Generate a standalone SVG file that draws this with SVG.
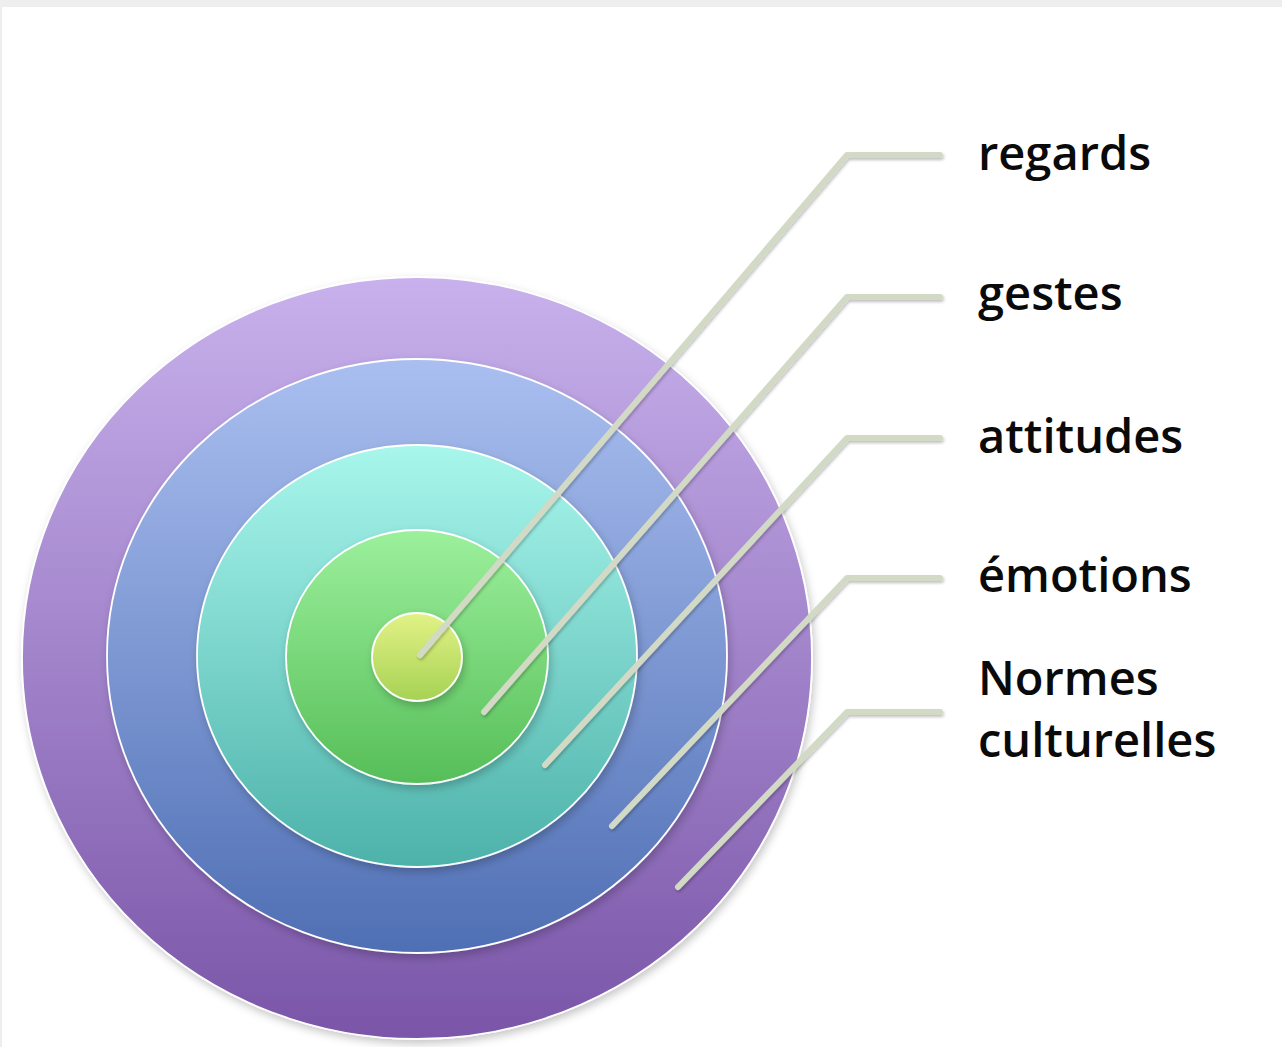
<svg xmlns="http://www.w3.org/2000/svg" width="1282" height="1047" viewBox="0 0 1282 1047">
<style>
.ring{stroke:#ffffff;stroke-width:1.8;filter:url(#sh)}
.conn{fill:none;stroke:#d2dac6;stroke-width:6;stroke-linecap:round;stroke-linejoin:round;filter:url(#lsh)}
.lbl{font-family:"Open Sans","Liberation Sans",sans-serif;font-size:47px;font-weight:600;fill:#0a0a0a}
</style>
<defs>
<filter id="sh" x="-10%" y="-10%" width="120%" height="125%">
<feDropShadow dx="2" dy="4" stdDeviation="4" flood-color="#000" flood-opacity="0.22"/>
</filter>
<filter id="lsh" x="-10%" y="-10%" width="120%" height="120%">
<feDropShadow dx="1" dy="2" stdDeviation="1.5" flood-color="#000" flood-opacity="0.25"/>
</filter>
<linearGradient id="gP" x1="0" y1="0" x2="0" y2="1"><stop offset="0" stop-color="#c8b1ec"/><stop offset="1" stop-color="#7a55a8"/></linearGradient>
<linearGradient id="gB" x1="0" y1="0" x2="0" y2="1"><stop offset="0" stop-color="#aabff0"/><stop offset="1" stop-color="#4f6fb4"/></linearGradient>
<linearGradient id="gT" x1="0" y1="0" x2="0" y2="1"><stop offset="0" stop-color="#a8f6ec"/><stop offset="1" stop-color="#4db2aa"/></linearGradient>
<linearGradient id="gG" x1="0" y1="0" x2="0" y2="1"><stop offset="0" stop-color="#9cf09c"/><stop offset="1" stop-color="#56be58"/></linearGradient>
<linearGradient id="gY" x1="0" y1="0" x2="0" y2="1"><stop offset="0" stop-color="#e2f286"/><stop offset="1" stop-color="#a6d254"/></linearGradient>
</defs>
<rect x="0" y="0" width="1282" height="1047" fill="#eeeeee"/>
<rect x="2" y="7" width="1280" height="1040" fill="#ffffff"/>
<g id="node-normes"><ellipse class="ring" cx="417" cy="658" rx="395" ry="381" fill="url(#gP)"/></g>
<g id="node-emotions"><ellipse class="ring" cx="417" cy="656" rx="310" ry="297" fill="url(#gB)"/></g>
<g id="node-attitudes"><ellipse class="ring" cx="417" cy="656" rx="220" ry="211" fill="url(#gT)"/></g>
<g id="node-gestes"><ellipse class="ring" cx="417" cy="657" rx="131" ry="127" fill="url(#gG)"/></g>
<g id="node-regards"><ellipse class="ring" cx="417" cy="657" rx="45" ry="44" fill="url(#gY)"/></g>
<g id="connectors">
<polyline class="conn" points="420,655 847,155 940,155"/>
<polyline class="conn" points="484,712 847,297 940,297"/>
<polyline class="conn" points="545,765 847,438 940,438"/>
<polyline class="conn" points="612,826 847,578 940,578"/>
<polyline class="conn" points="678,887 847,712 940,712"/>
</g>
<g id="labels">
<text class="lbl" x="978" y="170">regards</text>
<text class="lbl" x="978" y="310">gestes</text>
<text class="lbl" x="978" y="453">attitudes</text>
<text class="lbl" x="978" y="592">émotions</text>
<text class="lbl" x="978" y="695">Normes</text>
<text class="lbl" x="978" y="757">culturelles</text>
</g>
</svg>
